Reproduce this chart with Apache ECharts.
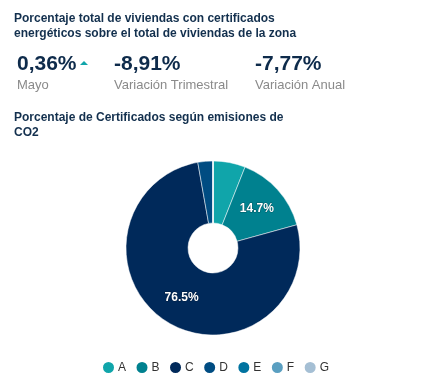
<!DOCTYPE html>
<html><head><meta charset="utf-8">
<script src="https://cdn.jsdelivr.net/npm/echarts@6/dist/echarts.min.js"></script>
<style>html,body{margin:0;padding:0;background:#fff}#c{width:437px;height:391px}</style>
</head><body><div id="c"></div>
<script>
const categories = ['A','B','C','D','E','F','G'];
const values = [6.0, 14.7, 76.5, 2.8, 0, 0, 0];
const colors = ['#10a5aa','#00818f','#00295a','#004c82','#0073a0','#5a9fc1','#a5bfd4'];
const kpiValues = ['0,36%','-8,91%','-7,77%'];
const kpiLabels = ['Mayo','Variación Trimestral','Variación Anual'];
const title1 = ['Porcentaje total de viviendas con certificados','energéticos sobre el total de viviendas de la zona'];
const title2 = ['Porcentaje de Certificados según emisiones de','CO2'];

const font = '"Liberation Sans", Arial, sans-serif';
const chart = echarts.init(document.getElementById('c'));
const kpiX = [17, 114, 255];
const graphic = [];
title1.forEach((t,i)=>graphic.push({type:'text',left:14,top:13+i*15,style:{text:t,font:'bold 12px '+font,fill:'#13304e'}}));
kpiValues.forEach((t,i)=>{
  graphic.push({type:'text',left:kpiX[i],top:54,style:{text:t,font:'bold 21px '+font,fill:'#0e2b4b'}});
  graphic.push({type:'text',left:kpiX[i],top:79,style:{text:kpiLabels[i],font:'13px '+font,fill:'#8a8a8a'}});
});
graphic.push({type:'polygon',shape:{points:[[80,65],[88,65],[84,61]]},style:{fill:'#10a5aa'}});
title2.forEach((t,i)=>graphic.push({type:'text',left:14,top:112+i*15,style:{text:t,font:'bold 12px '+font,fill:'#13304e'}}));

chart.setOption({
  animation:false,
  color: colors,
  graphic: graphic,
  legend:{
    bottom:11, left:96, icon:'circle', itemWidth:13, itemHeight:13, itemGap:8.5,
    data: categories,
    textStyle:{fontFamily:font,fontSize:12,color:'#333',padding:[0,0,0,-2]}
  },
  series:[{
    type:'pie',
    center:[213,248],
    radius:[25,87],
    startAngle:90,
    clockwise:true,
    avoidLabelOverlap:false,
    itemStyle:{borderColor:'#fff',borderWidth:0.5},
    label:{
      show:true, position:'inside', color:'#fff', fontWeight:'bold', fontSize:12, fontFamily:font,
      textBorderColor:'rgba(0,0,0,0.3)', textBorderWidth:1,
      formatter: p => p.value > 10 ? p.value.toFixed(1)+'%' : ''
    },
    labelLine:{show:false},
    data: categories.map((c,i)=>({name:c,value:values[i]}))
  }]
});
</script></body></html>
